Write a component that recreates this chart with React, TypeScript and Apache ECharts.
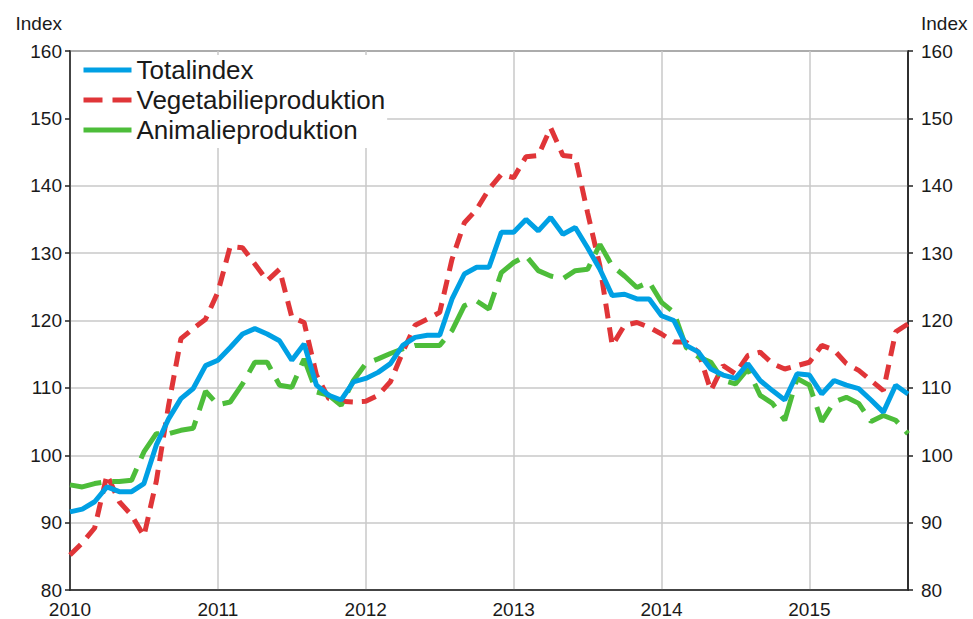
import React, { useEffect, useRef } from "react";
import * as echarts from "echarts";

const years = [2010, 2011, 2012, 2013, 2014, 2015];
const monthCount = 69; // Jan 2010 .. Sep 2015

const totalindex = [
  91.6, 92.0, 93.1, 95.3, 94.6, 94.6, 95.8, 101.5, 105.4, 108.4,
  109.9, 113.3, 114.1, 116.0, 118.0, 118.8, 118.0, 117.0, 114.1, 116.5,
  110.4, 108.9, 108.2, 110.9, 111.4, 112.3, 113.6, 116.3, 117.5, 117.8,
  117.8, 123.2, 126.9, 127.9, 127.9, 133.1, 133.1, 135.0, 133.3, 135.3,
  132.8, 133.8, 130.8, 127.6, 123.7, 123.9, 123.2, 123.2, 120.7, 120.0,
  116.3, 115.3, 112.8, 111.9, 111.4, 113.6, 111.1, 109.6, 108.2, 112.1,
  111.9, 109.1, 111.1, 110.4, 109.9, 108.2, 106.4, 110.4, 109.1,
];

const vegetabilie = [
  85.2, 87.0, 89.2, 97.1, 93.1, 91.1, 88.0, 96.1, 107.4, 117.3,
  118.8, 120.2, 124.2, 131.0, 130.8, 128.4, 125.9, 127.6, 120.5, 119.7,
  111.9, 108.4, 108.0, 107.9, 108.0, 108.9, 110.9, 115.3, 119.3, 120.2,
  121.2, 129.1, 134.5, 136.5, 139.5, 141.7, 141.2, 144.3, 144.5, 148.6,
  144.5, 144.3, 136.0, 128.1, 116.3, 119.3, 119.7, 119.0, 118.0, 116.8,
  116.8, 115.3, 109.6, 113.3, 112.1, 114.8, 115.3, 113.6, 112.8, 113.3,
  113.8, 116.3, 115.6, 113.6, 112.6, 111.1, 109.6, 118.3, 119.5,
];

const animalie = [
  95.6, 95.3, 95.8, 96.1, 96.1, 96.3, 100.5, 103.2, 103.2, 103.7,
  104.0, 109.5, 107.5, 107.9, 110.6, 113.8, 113.8, 110.4, 110.1, 114.3,
  109.4, 108.9, 107.4, 111.1, 113.6, 114.3, 115.1, 115.8, 116.3, 116.3,
  116.3, 118.5, 122.2, 122.9, 121.7, 127.1, 128.6, 129.6, 127.4, 126.6,
  126.2, 127.4, 127.6, 131.3, 128.1, 126.6, 124.9, 125.7, 122.7, 121.2,
  116.0, 114.6, 113.8, 111.1, 110.6, 112.8, 108.9, 107.7, 105.2, 111.4,
  110.4, 105.0, 107.9, 108.6, 107.7, 105.0, 105.9, 105.2, 103.2,
];

const categories: string[] = [];
for (let i = 0; i < monthCount; i++) {
  const y = years[0] + Math.floor(i / 12);
  const m = (i % 12) + 1;
  categories.push(`${y}M${m < 10 ? "0" + m : m}`);
}

const FONT = "'Liberation Sans', Arial, sans-serif";
const TXT = "#1a1a1a";

export default function App() {
  const ref = useRef<HTMLDivElement>(null);
  useEffect(() => {
    if (!ref.current) return;
    const chart = echarts.init(ref.current, undefined, { renderer: "svg" });
    const yAxisBase = {
      type: "value",
      min: 80,
      max: 160,
      interval: 10,
      name: "Index",
      nameLocation: "end",
      nameGap: 28,
      axisLine: { show: true, lineStyle: { color: "#222", width: 1.5 } },
      axisTick: { show: true, inside: false, length: 5, lineStyle: { color: "#222", width: 1.5 } },
    };
    chart.setOption({
      animation: false,
      textStyle: { fontFamily: FONT },
      grid: {
        left: 70,
        right: 65,
        top: 51,
        bottom: 27,
        show: true,
        borderColor: "#222",
        borderWidth: 1.5,
        backgroundColor: "#fff",
      },
      legend: {
        orient: "vertical",
        left: 71,
        top: 55,
        padding: [2, 2, 5, 10],
        backgroundColor: "#fff",
        itemWidth: 48,
        itemHeight: 14,
        itemGap: 4,
        z: 6,
        itemStyle: { opacity: 0, borderWidth: 0 },
        lineStyle: { width: 5 },
        textStyle: { fontSize: 26, color: TXT, fontFamily: FONT },
        data: [
          { name: "Totalindex" },
          { name: "Vegetabilieproduktion", lineStyle: { type: [19, 10] } },
          { name: "Animalieproduktion", lineStyle: { type: "solid" } },
        ],
      },
      xAxis: {
        type: "category",
        data: categories,
        boundaryGap: false,
        axisLine: { show: true, lineStyle: { color: "#222", width: 1.5 } },
        axisTick: { show: false, interval: 11 },
        axisLabel: {
          interval: 11,
          margin: 12,
          fontSize: 19,
          lineHeight: 15,
          color: TXT,
          fontFamily: FONT,
          formatter: (v: string) => v.slice(0, 4),
        },
        splitLine: { show: true, interval: 11, lineStyle: { color: "#c8c8c8", width: 1.5 } },
      },
      yAxis: [
        {
          ...yAxisBase,
          position: "left",
          nameTextStyle: {
            fontSize: 19,
            color: TXT,
            fontFamily: FONT,
            align: "right",
            verticalAlign: "middle",
            padding: [0, 8, 0, 0],
          },
          axisLabel: { margin: 8, fontSize: 19, lineHeight: 15, color: TXT, fontFamily: FONT },
          splitLine: { show: true, lineStyle: { color: "#c8c8c8", width: 1.5 } },
        },
        {
          ...yAxisBase,
          position: "right",
          nameTextStyle: {
            fontSize: 19,
            color: TXT,
            fontFamily: FONT,
            align: "left",
            verticalAlign: "middle",
            padding: [0, 0, 0, 13],
          },
          axisLabel: { margin: 13, fontSize: 19, lineHeight: 15, color: TXT, fontFamily: FONT },
          splitLine: { show: false },
        },
      ],
      series: [
        {
          name: "Totalindex",
          type: "line",
          data: totalindex,
          symbol: "none",
          z: 4,
          itemStyle: { color: "#00a0e4" },
          lineStyle: { color: "#00a0e4", width: 5 },
        },
        {
          name: "Vegetabilieproduktion",
          type: "line",
          data: vegetabilie,
          symbol: "none",
          z: 3,
          itemStyle: { color: "#e03538" },
          lineStyle: { color: "#e03538", width: 5, type: [15, 9] },
        },
        {
          name: "Animalieproduktion",
          type: "line",
          data: animalie,
          symbol: "none",
          z: 3,
          itemStyle: { color: "#4dbd3a" },
          lineStyle: { color: "#4dbd3a", width: 5, type: [32, 11] },
        },
      ],
    });
    return () => chart.dispose();
  }, []);
  return <div ref={ref} style={{ width: 973, height: 619, position: "absolute", left: 0, top: 0 }} />;
}
